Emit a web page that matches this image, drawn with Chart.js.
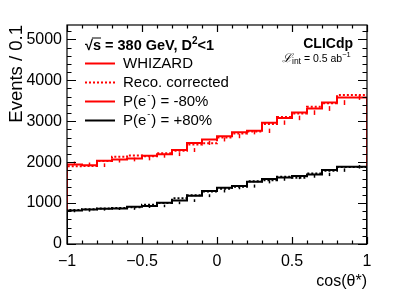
<!DOCTYPE html>
<html>
<head>
<meta charset="utf-8">
<script src="https://cdn.jsdelivr.net/npm/chart.js@4"></script>
<style>
  html, body { margin: 0; padding: 0; background: #fff; }
  #wrap { width: 399px; height: 300px; }
</style>
</head>
<body>
<div id="wrap"><canvas id="chart"></canvas></div>
<script>
const binEdges = [-1, -0.9, -0.8, -0.7, -0.6, -0.5, -0.4, -0.3, -0.2, -0.1, 0, 0.1, 0.2, 0.3, 0.4, 0.5, 0.6, 0.7, 0.8, 0.9, 1];

// P(e-) = -80%
const redTruth = [1970, 1945, 1925, 2035, 2065, 2090, 2155, 2195, 2295, 2470, 2555, 2635, 2730, 2765, 2965, 3080, 3210, 3310, 3455, 3580];
const redReco  = [1820, 1900, 1905, 2030, 2130, 2165, 2145, 2215, 2280, 2430, 2460, 2600, 2700, 2750, 2930, 3100, 3190, 3350, 3440, 3640];
const redErr   = [45, 45, 45, 45, 46, 46, 47, 47, 48, 50, 50, 51, 52, 53, 54, 55, 57, 58, 59, 60];

// P(e-) = +80%
const blackTruth = [805, 820, 845, 860, 865, 910, 930, 1005, 1060, 1180, 1295, 1375, 1415, 1520, 1585, 1625, 1660, 1700, 1805, 1885];
const blackReco  = [790, 830, 850, 870, 880, 900, 960, 1000, 1120, 1190, 1280, 1350, 1400, 1530, 1560, 1640, 1620, 1720, 1790, 1880];
const blackErr   = [30, 30, 30, 30, 30, 31, 31, 32, 33, 35, 36, 37, 38, 39, 40, 40, 41, 41, 42, 43];

const xTickValues = [-1, -0.5, 0, 0.5, 1];
const yTickValues = [0, 1000, 2000, 3000, 4000, 5000];

const FONT = '"Liberation Sans", Arial, Helvetica, sans-serif';

// histogram outline points from bin contents
function histPoints(vals, closed) {
  const pts = vals.map((v, i) => ({ x: binEdges[i], y: v }));
  pts.push({ x: binEdges[binEdges.length - 1], y: vals[vals.length - 1] });
  if (closed) {
    pts.unshift({ x: binEdges[0], y: 0 });
    pts.push({ x: binEdges[binEdges.length - 1], y: 0 });
  }
  return pts;
}

const errorBars = [
  { vals: redTruth, err: redErr, color: '#ff0000' },
  { vals: blackTruth, err: blackErr, color: '#000000' }
];

/* frame, inward ticks, error bars and text */
const decor = {
  id: 'decor',
  afterDatasetsDraw(chart) {
    const ctx = chart.ctx;
    const xs = chart.scales.x, ys = chart.scales.y;

    ctx.save();
    ctx.lineWidth = 1.5;
    errorBars.forEach(s => {
      ctx.strokeStyle = s.color;
      s.vals.forEach((v, i) => {
        const xc = xs.getPixelForValue((binEdges[i] + binEdges[i + 1]) / 2);
        ctx.beginPath();
        ctx.moveTo(xc, ys.getPixelForValue(v - s.err[i]));
        ctx.lineTo(xc, ys.getPixelForValue(v + s.err[i]));
        ctx.stroke();
      });
    });
    ctx.restore();
  },
  afterDraw(chart) {
    const ctx = chart.ctx;
    const a = chart.chartArea;
    const xs = chart.scales.x, ys = chart.scales.y;
    ctx.save();
    ctx.strokeStyle = '#000';
    ctx.lineWidth = 1.2;
    ctx.strokeRect(a.left, a.top, a.right - a.left, a.bottom - a.top);

    // y ticks
    for (let v = 0; v <= ys.max; v += 200) {
      const y = Math.round(ys.getPixelForValue(v)) + 0.5;
      const len = v % 1000 === 0 ? 9 : 4.5;
      ctx.beginPath();
      ctx.moveTo(a.left, y); ctx.lineTo(a.left + len, y);
      ctx.moveTo(a.right, y); ctx.lineTo(a.right - len, y);
      ctx.stroke();
    }
    // x ticks
    for (let i = 0; i <= 20; i++) {
      const v = -1 + i * 0.1;
      const x = Math.round(xs.getPixelForValue(v)) + 0.5;
      const len = i % 5 === 0 ? 7 : 3.5;
      ctx.beginPath();
      ctx.moveTo(x, a.bottom); ctx.lineTo(x, a.bottom - len);
      ctx.moveTo(x, a.top); ctx.lineTo(x, a.top + len);
      ctx.stroke();
    }

    // axis titles
    ctx.fillStyle = '#000';
    ctx.font = '16px ' + FONT;
    ctx.textAlign = 'right';
    ctx.textBaseline = 'alphabetic';
    ctx.fillText('cos(\u03b8*)', a.right, 286);
    ctx.save();
    ctx.translate(22, a.top);
    ctx.rotate(-Math.PI / 2);
    ctx.textAlign = 'right';
    ctx.font = '18.5px ' + FONT;
    ctx.fillText('Events / 0.1', 0, 0);
    ctx.restore();

    // header
    ctx.textAlign = 'left';
    ctx.font = 'bold 14.5px ' + FONT;
    let x = 85;
    const hy = 50;
    ctx.fillText('\u221a', x, hy);
    x += ctx.measureText('\u221a').width;
    const sw = ctx.measureText('s').width;
    ctx.fillText('s', x, hy);
    ctx.beginPath();
    ctx.lineWidth = 1;
    ctx.moveTo(x - 1, hy - 12); ctx.lineTo(x + sw, hy - 12);
    ctx.stroke();
    x += sw;
    const t1 = ' = 380 GeV, D';
    ctx.fillText(t1, x, hy);
    x += ctx.measureText(t1).width;
    ctx.font = 'bold 10px ' + FONT;
    ctx.fillText('2', x, hy - 6);
    x += ctx.measureText('2').width;
    ctx.font = 'bold 14.5px ' + FONT;
    ctx.fillText('<1', x, hy);

    // legend entries
    const rows = [
      { y: 63.5, color: '#ff0000', dash: [], label: ['WHIZARD'] },
      { y: 82.5, color: '#ff0000', dash: [2, 2], label: ['Reco. corrected'] },
      { y: 101.5, color: '#ff0000', dash: [], label: ['P(e', '-', ') = -80%'] },
      { y: 120.5, color: '#000000', dash: [], label: ['P(e', '-', ') = +80%'] }
    ];
    rows.forEach(r => {
      ctx.beginPath();
      ctx.strokeStyle = r.color;
      ctx.lineWidth = 2;
      ctx.setLineDash(r.dash);
      ctx.moveTo(85, r.y); ctx.lineTo(115, r.y);
      ctx.stroke();
      ctx.setLineDash([]);
      ctx.fillStyle = '#000';
      ctx.font = '15px ' + FONT;
      ctx.textBaseline = 'middle';
      let lx = 123;
      r.label.forEach((seg, k) => {
        if (k === 1) {
          ctx.font = '9px ' + FONT;
          ctx.fillText(seg, lx + 1, r.y - 6);
          lx += ctx.measureText(seg).width + 2;
          ctx.font = '15px ' + FONT;
        } else {
          ctx.fillText(seg, lx, r.y);
          lx += ctx.measureText(seg).width;
        }
      });
    });

    // CLICdp label
    ctx.textBaseline = 'alphabetic';
    ctx.textAlign = 'left';
    ctx.font = 'bold 14px ' + FONT;
    const cw = ctx.measureText('CLICdp').width;
    ctx.fillText('CLICdp', 353 - cw, 48);
    // luminosity
    let lx = 282;
    const ly = 62;
    ctx.font = 'italic 12px "DejaVu Serif", serif';
    ctx.fillText('\u2112', lx, ly);
    lx += ctx.measureText('\u2112').width;
    ctx.font = '8.5px ' + FONT;
    ctx.fillText('int', lx, ly + 2);
    lx += ctx.measureText('int').width;
    ctx.font = '10.5px ' + FONT;
    ctx.fillText(' = 0.5 ab', lx, ly);
    lx += ctx.measureText(' = 0.5 ab').width;
    ctx.font = '7.5px ' + FONT;
    ctx.fillText('\u22121', lx, ly - 5);
    ctx.restore();
  }
};

new Chart(document.getElementById('chart'), {
  type: 'line',
  data: {
    datasets: [
      {
        data: histPoints(blackTruth, true),
        borderColor: '#000000',
        borderWidth: 2,
        stepped: 'after',
        pointRadius: 0,
        fill: false,
        order: 0
      },
      {
        data: histPoints(blackReco, false),
        borderColor: '#000000',
        borderWidth: 2,
        borderDash: [2, 2],
        stepped: 'after',
        pointRadius: 0,
        fill: false,
        order: 1
      },
      {
        data: histPoints(redTruth, true),
        borderColor: '#ff0000',
        borderWidth: 2,
        stepped: 'after',
        pointRadius: 0,
        fill: false,
        order: 2
      },
      {
        data: histPoints(redReco, false),
        borderColor: '#ff0000',
        borderWidth: 2,
        borderDash: [2, 2],
        stepped: 'after',
        pointRadius: 0,
        fill: false,
        order: 3
      }
    ]
  },
  options: {
    responsive: true,
    maintainAspectRatio: false,
    animation: false,
    events: [],
    layout: { padding: { top: 25, right: 32, left: 0, bottom: 0 } },
    plugins: { legend: { display: false }, tooltip: { enabled: false } },
    scales: {
      x: {
        type: 'linear',
        min: -1,
        max: 1,
        grid: { display: false, drawTicks: false },
        border: { display: false },
        afterBuildTicks: s => { s.ticks = xTickValues.map(v => ({ value: v })); },
        afterFit: s => { s.height = 56; },
        ticks: {
          padding: 8,
          maxRotation: 0,
          color: '#000',
          font: { family: FONT, size: 16 },
          callback: v => (v < 0 ? '\u2212' + Math.abs(v) : String(v))
        }
      },
      y: {
        type: 'linear',
        min: 0,
        max: 5350,
        grid: { display: false, drawTicks: false },
        border: { display: false },
        afterBuildTicks: s => { s.ticks = yTickValues.map(v => ({ value: v })); },
        afterFit: s => { s.width = 67; },
        ticks: {
          padding: 5,
          color: '#000',
          font: { family: FONT, size: 16 },
          callback: v => String(v)
        }
      }
    }
  },
  plugins: [decor]
});
</script>
</body>
</html>
